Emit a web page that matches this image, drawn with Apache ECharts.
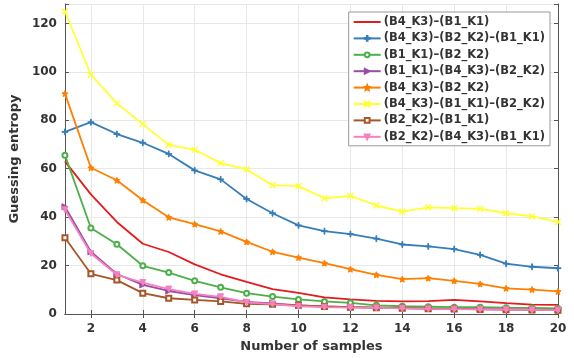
<!DOCTYPE html>
<html>
<head>
<meta charset="utf-8">
<script src="https://cdn.jsdelivr.net/npm/echarts@6/dist/echarts.min.js"></script>
<style>
  html, body { margin: 0; padding: 0; background: #fff; }
  #chart { width: 574px; height: 358px; }
</style>
</head>
<body>
<div id="chart"></div>
<script>
// number of samples on x
const samples = ['1', '2', '3', '4', '5', '6', '7', '8', '9', '10',
                 '11', '12', '13', '14', '15', '16', '17', '18', '19', '20']

const yTicks = [0, 20, 40, 60, 80, 100, 120]

const names = [
    '(B4_K3)–(B1_K1)',
    '(B4_K3)–(B2_K2)–(B1_K1)',
    '(B1_K1)–(B2_K2)',
    '(B1_K1)–(B4_K3)–(B2_K2)',
    '(B4_K3)–(B2_K2)',
    '(B4_K3)–(B1_K1)–(B2_K2)',
    '(B2_K2)–(B1_K1)',
    '(B2_K2)–(B4_K3)–(B1_K1)'
]

const b4b1 = [63, 49.4, 38, 29, 25.6, 20.5, 16.4, 13.3, 10.3, 8.7, 6.9, 6, 5.4, 5.2, 5.3, 5.8, 5.2, 4.5, 3.9, 3.8]
const b4b2b1 = [75.2, 79.2, 74.3, 70.7, 66.1, 59.3, 55.6, 47.5, 41.6, 36.6, 34.2, 33, 31.1, 28.7, 27.9, 26.8, 24.4, 20.8, 19.5, 18.9]
const b1b2 = [65.6, 35.5, 28.8, 19.9, 17.1, 13.7, 11, 8.6, 7.2, 6, 5.2, 4.6, 3.6, 3.2, 3, 2.8, 2.8, 2.6, 2.5, 2.3]
const b1b4b2 = [44.3, 25.7, 16.5, 12, 9.5, 7.8, 6.5, 5, 4.4, 3.6, 3.1, 2.8, 2.6, 2.4, 2.2, 2.1, 2, 1.9, 1.8, 1.7]
const b4b2 = [91, 60.4, 55.2, 47, 39.9, 37.1, 34.1, 29.8, 25.7, 23.3, 21, 18.5, 16.2, 14.4, 14.8, 13.7, 12.4, 10.6, 10.1, 9.3]
const b4b1b2 = [124.9, 98.8, 87, 78.4, 69.8, 67.8, 62.3, 59.7, 53.2, 52.8, 47.8, 48.8, 44.8, 42.3, 44, 43.7, 43.4, 41.6, 40.3, 38]
const b2b1 = [31.5, 16.6, 14, 8.6, 6.5, 5.8, 5.2, 4.2, 4, 3.6, 3.1, 2.8, 2.6, 2.4, 2.2, 2.1, 1.9, 1.8, 1.7, 1.6]
const b2b4b1 = [43, 25, 16.2, 13, 10.3, 8.3, 7.1, 4.8, 4.1, 3.2, 2.8, 2.6, 2.5, 2.3, 2.1, 2, 1.9, 1.8, 1.7, 1.6]

const colors = ['#e41a1c', '#377eb8', '#4daf4a', '#984ea3', '#ff7f00', '#ffff33', '#a65628', '#f781bf']

const plusPath = 'path://M-0.4,-3H0.4V-0.4H3V0.4H0.4V3H-0.4V0.4H-3V-0.4H-0.4Z'
const crossPath = 'path://M-2.6,-2.1L-2.1,-2.6L0,-0.5L2.1,-2.6L2.6,-2.1L0.5,0L2.6,2.1L2.1,2.6L0,0.5L-2.1,2.6L-2.6,2.1L-0.5,0Z'
const starPath = 'path://M0,-3L0.9,-1.2L2.9,-0.9L1.4,0.5L1.8,2.4L0,1.5L-1.8,2.4L-1.4,0.5L-2.9,-0.9L-0.9,-1.2Z'

const allData = [b4b1, b4b2b1, b1b2, b1b4b2, b4b2, b4b1b2, b2b1, b2b4b1]
const symbols = ['none', plusPath, 'emptyCircle', 'triangle', starPath, crossPath, 'emptyRect', 'triangle']
const rotates = [0, 0, 0, -90, 0, 0, 0, 180]
const sizes = [0, 6, 5, 6, 6, 6, 5, 6]

const labelFont = { fontFamily: 'DejaVu Sans', fontWeight: 'bold', color: '#333' }
const even = (i) => (i + 1) % 2 === 0

const series = allData.map((d, i) => ({
    name: names[i],
    type: 'line',
    data: d,
    symbol: symbols[i],
    symbolSize: sizes[i],
    symbolRotate: rotates[i],
    showSymbol: symbols[i] !== 'none',
    lineStyle: { color: colors[i], width: 1.8 },
    itemStyle: { color: colors[i], borderColor: colors[i], borderWidth: 1 },
    animation: false,
    z: 2 + i
}))

// legend entries; the red one has no marker
const legendData = names.map((n, i) => i === 0
    ? { name: n, itemStyle: { opacity: 0 } }
    : { name: n })

const option = {
    color: colors,
    grid: { left: 63, right: 16, top: 4, bottom: 42, containLabel: false },
    legend: {
        orient: 'vertical',
        right: 24,
        top: 12,
        padding: [4, 5, 3, 4],
        itemWidth: 27,
        itemHeight: 6,
        itemGap: 4.4,
        backgroundColor: '#fff',
        borderColor: '#999',
        borderWidth: 1,
        textStyle: { fontFamily: 'DejaVu Sans', fontWeight: 'bold', fontSize: 11.5, color: '#333', padding: [0, 0, 0, -2] },
        data: legendData
    },
    xAxis: [{
        type: 'category',
        data: samples,
        boundaryGap: false,
        name: 'Number of samples',
        nameLocation: 'middle',
        nameGap: 26,
        nameTextStyle: Object.assign({ fontSize: 13 }, labelFont),
        axisLine: { lineStyle: { color: '#555' } },
        axisTick: { inside: true, length: 4, interval: (i) => even(i), lineStyle: { color: '#555' } },
        axisLabel: Object.assign({ fontSize: 12, interval: (i) => even(i), margin: 9 }, labelFont),
        splitLine: { show: true, interval: (i) => even(i), lineStyle: { color: '#e8e8e8' } }
    }, {
        type: 'category',
        data: samples,
        boundaryGap: false,
        position: 'top',
        axisLine: { lineStyle: { color: '#555' } },
        axisTick: { inside: true, length: 4, interval: (i) => even(i), lineStyle: { color: '#555' } },
        axisLabel: { show: false },
        splitLine: { show: false }
    }],
    yAxis: [{
        type: 'value',
        min: 0,
        max: 128,
        interval: 20,
        name: 'Guessing entropy',
        nameLocation: 'middle',
        nameGap: 35,
        nameTextStyle: Object.assign({ fontSize: 13 }, labelFont),
        axisLine: { show: true, lineStyle: { color: '#555' } },
        axisTick: { show: true, inside: true, length: 4, lineStyle: { color: '#555' } },
        axisLabel: Object.assign({ fontSize: 12, margin: 8, formatter: (v) => yTicks.includes(v) ? String(v) : '' }, labelFont),
        splitLine: { show: true, lineStyle: { color: '#e8e8e8' } }
    }, {
        type: 'value',
        min: 0,
        max: 128,
        interval: 20,
        position: 'right',
        axisLine: { show: true, lineStyle: { color: '#555' } },
        axisTick: { show: true, inside: true, length: 4, lineStyle: { color: '#555' } },
        axisLabel: { show: false },
        splitLine: { show: false }
    }],
    series: series
}

const chart = echarts.init(document.getElementById('chart'), null, { renderer: 'canvas' })
chart.setOption(option)
</script>
</body>
</html>
